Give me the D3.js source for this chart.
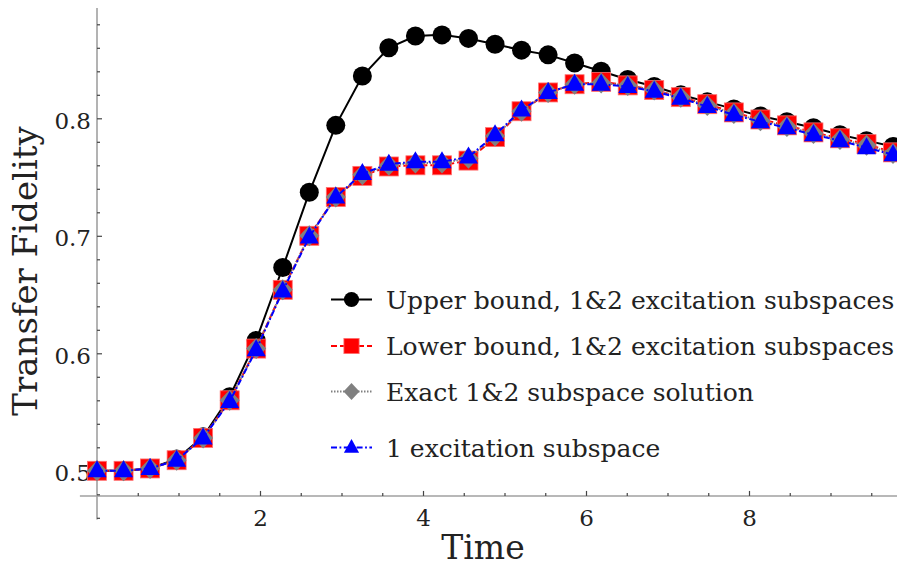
<!DOCTYPE html>
<html>
<head>
<meta charset="utf-8">
<script src="https://cdn.jsdelivr.net/npm/d3@7"></script>
<style>
  html, body { margin: 0; padding: 0; background: #fff; }
  svg { display: block; }
  text { font-family: "DejaVu Serif", serif; fill: #222; }
</style>
</head>
<body>
<svg id="chart" width="897" height="568"></svg>
<script>
// Sample times
const times = [0, 0.326, 0.651, 0.977, 1.302, 1.628, 1.953, 2.279, 2.605, 2.930,
  3.256, 3.581, 3.907, 4.233, 4.558, 4.884, 5.209, 5.535, 5.860, 6.186,
  6.512, 6.837, 7.163, 7.488, 7.814, 8.140, 8.465, 8.791, 9.116, 9.442, 9.767];

// Upper bound, 1&2 excitation subspaces
const upperBound = [0.500, 0.500, 0.502, 0.510, 0.529, 0.563, 0.611, 0.673, 0.737, 0.794,
  0.836, 0.860, 0.870, 0.871, 0.868, 0.863, 0.858, 0.854, 0.847, 0.840,
  0.833, 0.827, 0.820, 0.814, 0.808, 0.802, 0.797, 0.792, 0.786, 0.781, 0.776];

// Lower bound, 1&2 excitation subspaces
const lowerBound = [0.500, 0.500, 0.502, 0.509, 0.528, 0.560, 0.604, 0.654, 0.700, 0.733,
  0.751, 0.759, 0.760, 0.760, 0.764, 0.784, 0.806, 0.822, 0.829, 0.831,
  0.828, 0.824, 0.818, 0.812, 0.805, 0.799, 0.794, 0.788, 0.783, 0.778, 0.771];

// Exact 1&2 subspace solution
const exactSolution = [0.500, 0.500, 0.502, 0.509, 0.528, 0.560, 0.604, 0.654, 0.700, 0.733,
  0.752, 0.760, 0.762, 0.762, 0.766, 0.785, 0.806, 0.822, 0.829, 0.830,
  0.828, 0.824, 0.818, 0.811, 0.804, 0.798, 0.793, 0.787, 0.782, 0.777, 0.770];

// 1 excitation subspace
const oneExcitation = [0.500, 0.500, 0.502, 0.509, 0.528, 0.559, 0.603, 0.653, 0.699, 0.733,
  0.753, 0.761, 0.763, 0.763, 0.767, 0.786, 0.807, 0.822, 0.829, 0.829,
  0.827, 0.823, 0.817, 0.810, 0.803, 0.797, 0.792, 0.786, 0.781, 0.775, 0.769];

const seriesNames = [
  "Upper bound, 1&2 excitation subspaces",
  "Lower bound, 1&2 excitation subspaces",
  "Exact 1&2 subspace solution",
  "1 excitation subspace"
];

const xMajorTicks = [2, 4, 6, 8];
const xMinorTicks = [0.5, 1, 1.5, 2.5, 3, 3.5, 4.5, 5, 5.5, 6.5, 7, 7.5, 8.5, 9, 9.5];
const yMajorTicks = [0.5, 0.6, 0.7, 0.8];
const yMinorTicks = [0.46, 0.48, 0.52, 0.54, 0.56, 0.58, 0.62, 0.64, 0.66, 0.68,
  0.72, 0.74, 0.76, 0.78, 0.82, 0.84, 0.86, 0.88];

const svg = d3.select("#chart");

const x = d3.scaleLinear().domain([0, 9.8]).range([97, 895.7]);
const y = d3.scaleLinear().domain([0.5, 0.8]).range([470.8, 118.3]);

const axisGrey = "#a0a0a0";
const tickColor = "#444";

// Axis lines (crossing axes)
svg.append("line")
  .attr("x1", x(-0.21)).attr("x2", 897)
  .attr("y1", y(0.4786)).attr("y2", y(0.4786))
  .attr("stroke", axisGrey).attr("stroke-width", 1.6);
svg.append("line")
  .attr("x1", x(0)).attr("x2", x(0))
  .attr("y1", y(0.8939)).attr("y2", y(0.4585))
  .attr("stroke", axisGrey).attr("stroke-width", 1.6);

// x axis ticks (pointing up) and labels
const xAxisY = y(0.4786);
const gx = svg.append("g").attr("transform", `translate(0,${xAxisY})`);
gx.call(d3.axisBottom(x).tickValues(xMajorTicks).tickSize(-5).tickPadding(14)
  .tickFormat(d3.format("d")));
const gxm = svg.append("g").attr("transform", `translate(0,${xAxisY})`);
gxm.call(d3.axisBottom(x).tickValues(xMinorTicks).tickSize(-3).tickFormat(""));

// y axis ticks (pointing right) and labels
const gy = svg.append("g").attr("transform", `translate(${x(0)},0)`);
gy.call(d3.axisLeft(y).tickValues(yMajorTicks).tickSize(-5).tickPadding(6)
  .tickFormat(d3.format(".1f")));
const gym = svg.append("g").attr("transform", `translate(${x(0)},0)`);
gym.call(d3.axisLeft(y).tickValues(yMinorTicks).tickSize(-3).tickFormat(""));

[gx, gxm, gy, gym].forEach(g => {
  g.select(".domain").remove();
  g.selectAll(".tick line").attr("stroke", tickColor).attr("stroke-width", 1.2);
  g.selectAll(".tick text")
    .attr("font-family", "DejaVu Serif").attr("font-size", 23).attr("fill", "#222");
});
gy.selectAll(".tick text").attr("dy", "0.44em");

// Axis titles
svg.append("text")
  .attr("x", 483).attr("y", 559)
  .attr("text-anchor", "middle")
  .attr("font-size", 33)
  .text("Time");
svg.append("text")
  .attr("transform", "translate(37,271) rotate(-90)")
  .attr("text-anchor", "middle")
  .attr("font-size", 34)
  .text("Transfer Fidelity");

// Marker shapes
const triPath = (s) => `M0,${-10.5 * s}L${9.5 * s},${6.5 * s}L${-9.5 * s},${6.5 * s}Z`;
const diaPath = (s) => `M0,${-10.5 * s}L${10 * s},0L0,${10.5 * s}L${-10 * s},0Z`;

const series = [
  { values: upperBound, color: "#000", dash: null, marker: "circle" },
  { values: lowerBound, color: "#ff0000", dash: "6,3", marker: "square" },
  { values: exactSolution, color: "#808080", dash: "1.5,1.5", marker: "diamond" },
  { values: oneExcitation, color: "#0000ff", dash: "6,2.5,1.8,2.5", marker: "triangle" }
];

const line = d3.line().x(d => x(d[0])).y(d => y(d[1]));

function drawMarker(g, type, color, s) {
  if (type === "circle") {
    g.append("circle").attr("r", 9.5 * s).attr("fill", color);
  } else if (type === "square") {
    g.append("rect").attr("x", -9.5 * s).attr("y", -9.5 * s)
      .attr("width", 19 * s).attr("height", 19 * s)
      .attr("fill", color).attr("stroke", "#ff7070").attr("stroke-width", 0.8);
  } else if (type === "diamond") {
    g.append("path").attr("d", diaPath(s)).attr("fill", color);
  } else {
    g.append("path").attr("d", triPath(s)).attr("fill", color);
  }
}

const plot = svg.append("g");
series.forEach(sr => {
  const pts = times.map((t, i) => [t, sr.values[i]]);
  const gs = plot.append("g");
  gs.append("path").datum(pts)
    .attr("d", line)
    .attr("fill", "none")
    .attr("stroke", sr.color)
    .attr("stroke-width", 2)
    .attr("stroke-dasharray", sr.dash);
  pts.forEach(p => {
    const m = gs.append("g").attr("transform", `translate(${x(p[0])},${y(p[1])})`);
    drawMarker(m, sr.marker, sr.color, 1);
  });
});

// Legend
const legendRows = [299.5, 346, 391.5, 447.5];
const legend = svg.append("g");
series.forEach((sr, i) => {
  const row = legend.append("g").attr("transform", `translate(0,${legendRows[i]})`);
  row.append("line").attr("x1", 331).attr("x2", 372).attr("y1", 0).attr("y2", 0)
    .attr("stroke", sr.color).attr("stroke-width", 2)
    .attr("stroke-dasharray", sr.dash);
  const m = row.append("g").attr("transform", "translate(351.5,0)");
  drawMarker(m, sr.marker, sr.color, 0.8);
  row.append("text").attr("x", 386).attr("y", 9)
    .attr("font-size", 25)
    .text(seriesNames[i]);
});
</script>
</body>
</html>
